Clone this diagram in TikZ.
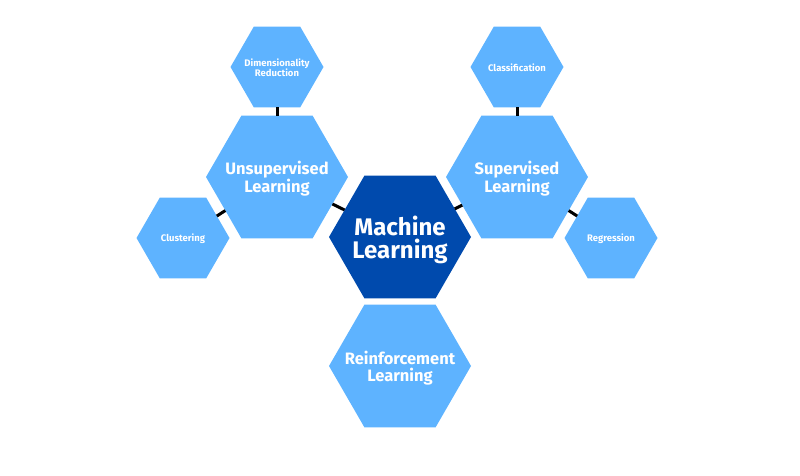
\documentclass[tikz,border=0pt]{standalone}
\usepackage{fontspec}
\setmainfont{Fira Sans}
\usetikzlibrary{shapes.geometric}

\definecolor{hexlight}{RGB}{94,179,255}
\definecolor{hexdark}{RGB}{0,74,173}

\begin{document}
\begin{tikzpicture}[x=1pt,y=-1pt,
  hex/.style={regular polygon,regular polygon sides=6,inner sep=0pt,outer sep=0pt,
    fill=hexlight},
  big node/.style={hex,minimum size=142pt,
    label={[text=white,align=center,yshift=-2pt,font=\bfseries\fontsize{16.5}{17}\selectfont]center:#1}},
  small node/.style={hex,minimum size=93pt,
    label={[text=white,align=center,yshift=-1pt,font=\bfseries\fontsize{9.5}{10}\selectfont]center:#1}},
  centre node/.style={hex,minimum size=142pt,fill=hexdark,
    label={[text=white,align=center,yshift=-3pt,font=\bfseries\fontsize{24}{23.5}\selectfont]center:#1}},
  link/.style={draw=black,line width=3pt}]

  \useasboundingbox (0,0) rectangle (800,476);

  \node[centre node={Machine\\Learning}] (ml) at (400,237) {};
  \node[big node={Unsupervised\\Learning}] (unsup) at (277,177) {};
  \node[big node={Supervised\\Learning}] (sup) at (517,177) {};
  \node[big node={Reinforcement\\Learning}] (rl) at (400,366) {};

  \node[small node={Dimensionality\\Reduction}] (dim) at (277,67) {};
  \node[small node=Clustering] (clus) at (183,238) {};
  \node[small node=Classification] (class) at (517,67) {};
  \node[small node=Regression] (reg) at (611,238) {};

  \path[link]
  (dim)   edge (unsup)
  (clus)  edge (unsup)
  (unsup) edge (ml)
  (ml)    edge (sup)
  (class) edge (sup)
  (sup)   edge (reg);
\end{tikzpicture}
\end{document}
